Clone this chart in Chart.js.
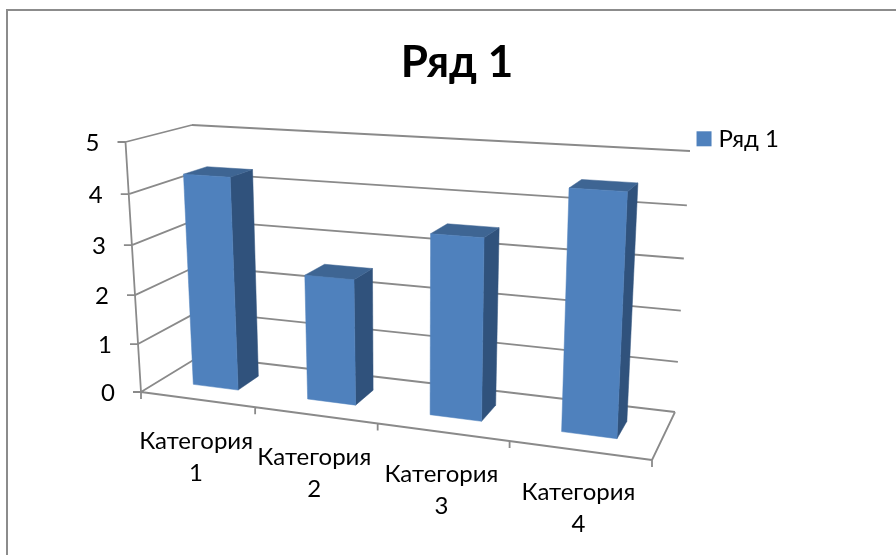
<!DOCTYPE html>
<html><head><meta charset="utf-8">
<script src="https://cdn.jsdelivr.net/npm/chart.js@4/dist/chart.umd.js"></script>
<style>html,body{margin:0;background:#fff}#w{position:relative;width:896px;height:555px}</style>
</head><body><div id="w"><canvas id="c"></canvas></div>
<script>
const seriesName = 'Ряд 1';
const categories = ['Категория 1', 'Категория 2', 'Категория 3', 'Категория 4'];
const values = [4.3, 2.5, 3.5, 4.5];
const yMax = 5;

// perspective frame of the 3D plot box (front and back planes): [left-bottom, right-bottom, right-top, left-top]
const frontPlane = [[141,392],[652,460],[666,172],[125.5,142]];
const backPlane  = [[200,356],[675,412],[690,151],[192,125]];
const barDepth = [0.33, 0.7];
const FONT = 'Lato, "Noto Sans", sans-serif';
const LINE = '#8a8a8a', FACE = '#4F81BD', SIDE = '#30527C', TOP = '#3E6593', TEXT = '#000';

function homography(q){
  const [[x0,y0],[x1,y1],[x2,y2],[x3,y3]] = q;
  const dx1=x1-x2, dx2=x3-x2, sx=x0-x1+x2-x3, dy1=y1-y2, dy2=y3-y2, sy=y0-y1+y2-y3;
  const den=dx1*dy2-dx2*dy1, g=(sx*dy2-dx2*sy)/den, h=(dx1*sy-sx*dy1)/den;
  const a=x1-x0+g*x1, b=x3-x0+h*x3, d=y1-y0+g*y1, e=y3-y0+h*y3;
  return (u,v)=>{const w=g*u+h*v+1;return [(a*u+b*v+x0)/w,(d*u+e*v+y0)/w];};
}
const F = homography(frontPlane), B = homography(backPlane);
function P(u,v,d){const f=F(u,v),b=B(u,v);return [f[0]+(b[0]-f[0])*d,f[1]+(b[1]-f[1])*d];}
function poly(ctx,pts,color){ctx.beginPath();pts.forEach((p,i)=>i?ctx.lineTo(p[0],p[1]):ctx.moveTo(p[0],p[1]));ctx.closePath();ctx.fillStyle=color;ctx.strokeStyle=color;ctx.lineWidth=0.5;ctx.fill();ctx.stroke();}
function seg(ctx,a,b){ctx.moveTo(a[0],a[1]);ctx.lineTo(b[0],b[1]);}

const perspective = {
  id:'perspective',
  beforeDatasetDraw(chart){
    const ctx=chart.ctx, area=chart.chartArea, xs=chart.scales.x, ys=chart.scales.y;
    const U=px=>(px-area.left)/area.width, V=px=>(area.bottom-px)/area.height;
    ctx.save();
    // frame
    ctx.strokeStyle='#8c8c8c';ctx.lineWidth=2;ctx.beginPath();ctx.moveTo(7,555);ctx.lineTo(7,10);ctx.lineTo(896,10);ctx.stroke();
    // walls
    ctx.strokeStyle=LINE;ctx.lineWidth=1.8;ctx.beginPath();
    ys.ticks.forEach(t=>{
      const v=V(ys.getPixelForValue(t.value)), a=F(0,v);
      seg(ctx,[a[0]-8,a[1]],a); seg(ctx,a,B(0,v)); seg(ctx,B(0,v),B(1,v));
    });
    seg(ctx,F(0,0),F(0,1));
    seg(ctx,F(0,0),F(1,0));
    seg(ctx,F(1,0),B(1,0));
    for(let i=0;i<=categories.length;i++){
      const a=F(U(xs.getPixelForValue(i-0.5)),0);
      seg(ctx,a,[a[0],a[1]+7]);
    }
    ctx.stroke();
    // bars
    const [d0,d1]=barDepth;
    chart.getDatasetMeta(0).data.forEach(el=>{
      const {x,y,base,width}=el.getProps(['x','y','base','width'],true);
      const u0=U(x-width/2),u1=U(x+width/2),v0=V(base),v1=V(y);
      poly(ctx,[P(u1,v0,d0),P(u1,v0,d1),P(u1,v1,d1),P(u1,v1,d0)],SIDE);
      poly(ctx,[P(u0,v1,d0),P(u1,v1,d0),P(u1,v1,d1),P(u0,v1,d1)],TOP);
      poly(ctx,[P(u0,v0,d0),P(u1,v0,d0),P(u1,v1,d0),P(u0,v1,d0)],FACE);
    });
    // tick labels
    ctx.fillStyle=TEXT;ctx.font='24px '+FONT;ctx.textBaseline='middle';
    ctx.textAlign='right';
    ys.ticks.forEach(t=>{
      const a=F(0,V(ys.getPixelForValue(t.value)));
      ctx.fillText(String(t.value),a[0]-26,a[1]+1);
    });
    ctx.textAlign='center';
    xs.getLabels().forEach((lab,i)=>{
      const a=F(U(xs.getPixelForValue(i)),0), parts=lab.split(' ');
      ctx.fillText(parts[0],a[0]-1,a[1]+42);
      ctx.fillText(parts[1],a[0]-1,a[1]+74);
    });
    ctx.restore();
    return false;
  },
  afterDraw(chart){
    // legend swatch sits closer to its text than the library's font-derived gap allows
    const hit=chart.legend.legendHitBoxes[0], ctx=chart.ctx;
    ctx.save();ctx.fillStyle=FACE;
    ctx.fillRect(hit.left+5,hit.top+(hit.height-15)/2,15,15);
    ctx.restore();
  }
};

new Chart(document.getElementById('c'),{
  type:'bar',
  data:{labels:categories,datasets:[{label:seriesName,data:values,backgroundColor:FACE,barPercentage:0.4,categoryPercentage:1}]},
  options:{
    responsive:true,maintainAspectRatio:false,animation:false,
    layout:{padding:{left:125,right:107,top:36,bottom:20}},
    scales:{
      x:{display:false},
      y:{display:false,min:0,max:yMax,ticks:{stepSize:1}}
    },
    plugins:{
      tooltip:{enabled:false},
      title:{display:true,text:seriesName,color:TEXT,font:{family:FONT,size:44,weight:'bold'},padding:{top:0,bottom:28}},
      legend:{position:'right',align:'start',fullSize:false,labels:{color:TEXT,font:{family:FONT,size:24},boxWidth:15,boxHeight:15,padding:10,
        generateLabels(chart){
          return chart.data.datasets.map((ds,i)=>({text:ds.label,fillStyle:'rgba(0,0,0,0)',strokeStyle:'rgba(0,0,0,0)',lineWidth:0,datasetIndex:i,fontColor:TEXT}));
        }}}
    }
  },
  plugins:[perspective]
});
</script></body></html>
